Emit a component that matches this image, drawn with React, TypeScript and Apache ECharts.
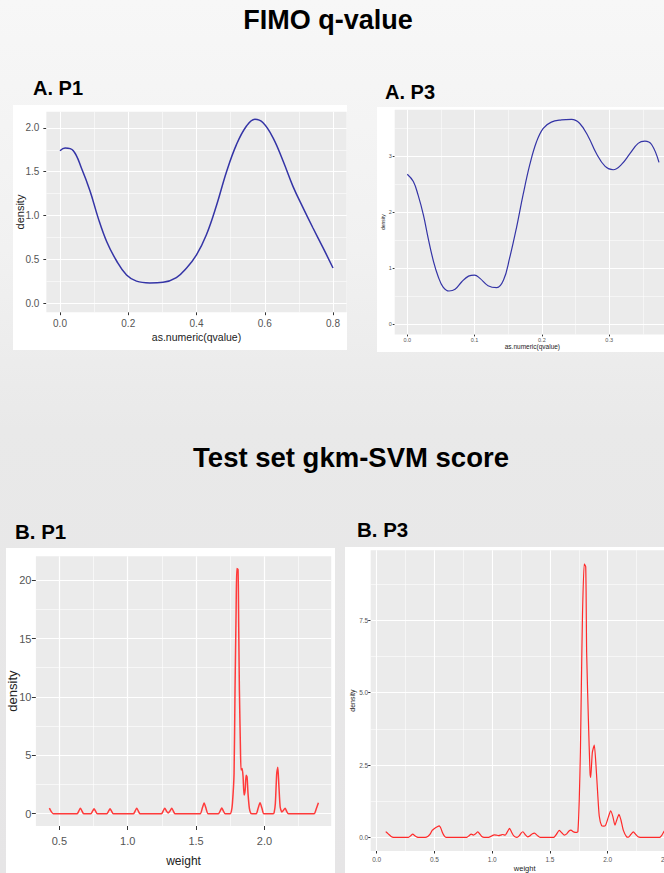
import React, { useEffect, useRef } from "react";
import * as echarts from "echarts";

// ---------- DATA ----------
// A. P1 – FIMO q-value density
const fimoP1: [number, number][] = [
  [0, 1.74], [0.015, 1.77], [0.039, 1.74], [0.063, 1.54], [0.088, 1.28], [0.112, 0.97],
  [0.137, 0.7], [0.166, 0.48], [0.195, 0.32], [0.224, 0.25], [0.263, 0.23], [0.302, 0.236],
  [0.341, 0.29], [0.371, 0.4], [0.4, 0.55], [0.429, 0.78], [0.459, 1.12], [0.488, 1.5],
  [0.517, 1.81], [0.546, 2.02], [0.571, 2.1], [0.595, 2.06], [0.624, 1.89], [0.654, 1.62],
  [0.683, 1.33], [0.712, 1.09], [0.741, 0.86], [0.771, 0.63], [0.8, 0.4],
];
// A. P3 – FIMO q-value density
const fimoP3: [number, number][] = [
  [0, 2.68], [0.009, 2.55], [0.016, 2.31], [0.024, 1.95], [0.031, 1.54], [0.039, 1.12],
  [0.046, 0.85], [0.053, 0.67], [0.062, 0.595], [0.071, 0.625], [0.081, 0.76], [0.091, 0.86],
  [0.1, 0.88], [0.108, 0.82], [0.12, 0.69], [0.133, 0.655], [0.143, 0.79], [0.152, 1.18],
  [0.162, 1.71], [0.172, 2.31], [0.182, 2.85], [0.192, 3.26], [0.202, 3.5], [0.214, 3.61],
  [0.229, 3.65], [0.244, 3.66], [0.256, 3.59], [0.269, 3.35], [0.281, 3.05], [0.294, 2.82],
  [0.306, 2.76], [0.318, 2.85], [0.331, 3.05], [0.343, 3.23], [0.353, 3.27], [0.363, 3.21],
  [0.374, 2.89],
];
// B. P1 – test set gkm-SVM score density
const gkmP1: [number, number][] = [
  [0.427, 0.48], [0.44, 0.2], [0.456, 0],
  [0.63, 0], [0.643, 0.25], [0.654, 0.48], [0.665, 0.25], [0.678, 0],
  [0.73, 0], [0.743, 0.22], [0.754, 0.43], [0.765, 0.22], [0.778, 0],
  [0.847, 0], [0.86, 0.22], [0.871, 0.43], [0.882, 0.22], [0.895, 0],
  [1.042, 0], [1.055, 0.25], [1.066, 0.48], [1.077, 0.25], [1.09, 0],
  [1.247, 0], [1.26, 0.25], [1.271, 0.48], [1.285, 0.2], [1.296, 0.06], [1.31, 0.25],
  [1.322, 0.48], [1.333, 0.25], [1.346, 0],
  [1.53, 0], [1.545, 0.45], [1.559, 0.91], [1.573, 0.45], [1.588, 0],
  [1.664, 0], [1.677, 0.25], [1.688, 0.49], [1.699, 0.25], [1.712, 0],
  [1.749, 0], [1.758, 0.2], [1.766, 0.88], [1.778, 3.45], [1.785, 10.6], [1.793, 17.4],
  [1.798, 21.0], [1.807, 20.9], [1.812, 16.0], [1.817, 10.6], [1.824, 6.0], [1.829, 3.74],
  [1.837, 3.88], [1.844, 3.17], [1.851, 1.6], [1.859, 2.0], [1.866, 3.3], [1.873, 3.17],
  [1.88, 1.74], [1.89, 0.46], [1.9, 0.05], [1.91, 0],
  [1.94, 0], [1.954, 0.47], [1.968, 0.94], [1.982, 0.47], [1.996, 0],
  [2.064, 0], [2.071, 0.1], [2.08, 0.88], [2.09, 3.45], [2.098, 3.97], [2.105, 2.6],
  [2.115, 0.6], [2.127, 0.15], [2.14, 0.3], [2.151, 0.48], [2.163, 0.2], [2.176, 0],
  [2.363, 0], [2.38, 0.45], [2.395, 0.94],
];
// B. P3 – test set gkm-SVM score density
const gkmP3: [number, number][] = [
  [0.078, 0.2], [0.1, 0.12], [0.125, 0.03], [0.145, 0],
  [0.275, 0], [0.295, 0.06], [0.312, 0.11], [0.33, 0.06], [0.35, 0.01], [0.37, 0],
  [0.42, 0], [0.445, 0.04], [0.462, 0.11], [0.48, 0.24], [0.5, 0.31], [0.52, 0.36],
  [0.543, 0.4], [0.555, 0.32], [0.57, 0.16], [0.585, 0.05], [0.601, 0],
  [0.78, 0], [0.8, 0.06], [0.818, 0.11], [0.838, 0.08], [0.858, 0.13], [0.876, 0.195],
  [0.892, 0.12], [0.91, 0.03], [0.93, 0],
  [0.968, 0], [0.995, 0.05], [1.017, 0.09], [1.035, 0.08], [1.055, 0.06], [1.075, 0.08],
  [1.09, 0.1], [1.113, 0.08], [1.13, 0.18], [1.15, 0.31], [1.168, 0.18], [1.185, 0.06],
  [1.214, 0], [1.235, 0.06], [1.25, 0.15], [1.266, 0.195], [1.285, 0.1], [1.306, 0.02],
  [1.325, 0.05], [1.345, 0.12], [1.367, 0.15], [1.39, 0.07], [1.416, 0],
  [1.532, 0], [1.555, 0.1], [1.581, 0.24], [1.605, 0.15], [1.624, 0.08], [1.645, 0.12],
  [1.665, 0.22], [1.682, 0.25], [1.705, 0.19], [1.728, 0.17], [1.742, 0.2],
  [1.754, 1.32], [1.764, 3.0], [1.772, 5.2], [1.782, 7.7], [1.797, 9.45], [1.81, 9.35],
  [1.818, 6.37], [1.833, 4.07], [1.847, 2.24], [1.853, 2.07], [1.867, 2.93], [1.884, 3.19],
  [1.899, 2.47], [1.913, 1.55], [1.927, 0.74], [1.948, 0.4], [1.965, 0.39], [1.982, 0.42],
  [2.005, 0.69], [2.026, 0.92], [2.045, 0.72], [2.063, 0.42], [2.08, 0.62], [2.098, 0.8],
  [2.115, 0.6], [2.135, 0.25], [2.164, 0.02], [2.18, 0.01], [2.2, 0.1], [2.222, 0.19],
  [2.243, 0.1], [2.263, 0.02], [2.283, 0],
  [2.45, 0], [2.47, 0.08], [2.487, 0.2], [2.494, 0.24],
];

// tick values
const fimoP1XTicks = [0, 0.2, 0.4, 0.6, 0.8];
const fimoP1XMinor = [0.1, 0.3, 0.5, 0.7];
const fimoP1YTicks = [0, 0.5, 1, 1.5, 2];
const fimoP1YMinor = [0.25, 0.75, 1.25, 1.75];

const fimoP3XTicks = [0, 0.1, 0.2, 0.3];
const fimoP3XMinor = [0.05, 0.15, 0.25, 0.35];
const fimoP3YTicks = [0, 1, 2, 3];
const fimoP3YMinor = [0.5, 1.5, 2.5, 3.5];

const gkmP1XTicks = [0.5, 1, 1.5, 2];
const gkmP1XMinor = [0.75, 1.25, 1.75, 2.25];
const gkmP1YTicks = [0, 5, 10, 15, 20];
const gkmP1YMinor = [2.5, 7.5, 12.5, 17.5];

const gkmP3XTicks = [0, 0.5, 1, 1.5, 2, 2.5];
const gkmP3XMinor = [0.25, 0.75, 1.25, 1.75, 2.25];
const gkmP3YTicks = [0, 2.5, 5, 7.5];
const gkmP3YMinor = [1.25, 3.75, 6.25, 8.75];

const titles = ["FIMO q-value", "Test set gkm-SVM score"];
const panelLabels = ["A. P1", "A. P3", "B. P1", "B. P3"];

// ---------- LAYOUT / STYLE ----------
const FONT = '"Liberation Sans", Arial, Helvetica, sans-serif';

type Panel = {
  data: [number, number][];
  color: string;
  lw: number;
  smooth: number;
  grid: { left: number; top: number; width: number; height: number };
  xr: [number, number];
  yr: [number, number];
  xt: number[]; xm: number[]; yt: number[]; ym: number[];
  xf: (v: number) => string;
  yf: (v: number) => string;
  fs: number; tick: number; xMargin: number; yMargin: number;
  xName: string; yName: string; xGap: number; yGap: number; xNs: number; yNs: number;
  major: number;
};

const f1 = (v: number) => v.toFixed(1);
const f0 = (v: number) => String(Math.round(v));

const panels: Panel[] = [
  {
    data: fimoP1, color: "#3434a6", lw: 1.5, smooth: 0.4,
    grid: { left: 46.35, top: 111.8, width: 300.3, height: 200.4 },
    xr: [-0.04, 0.84], yr: [-0.105, 2.185],
    xt: fimoP1XTicks, xm: fimoP1XMinor, yt: fimoP1YTicks, ym: fimoP1YMinor,
    xf: f1, yf: f1, fs: 10, tick: 3, xMargin: 6, yMargin: 7,
    xName: "as.numeric(qvalue)", yName: "density", xGap: 19, yGap: 21, xNs: 10.5, yNs: 11,
    major: 1.1,
  },
  {
    data: fimoP3, color: "#3434a6", lw: 1.2, smooth: 0.4,
    grid: { left: 394.7, top: 109.8, width: 275.4, height: 224.6 },
    xr: [-0.0187, 0.3905], yr: [-0.18, 3.83],
    xt: fimoP3XTicks, xm: fimoP3XMinor, yt: fimoP3YTicks, ym: fimoP3YMinor,
    xf: f1, yf: f0, fs: 5.5, tick: 2, xMargin: 3, yMargin: 3,
    xName: "as.numeric(qvalue)", yName: "density", xGap: 9, yGap: 9, xNs: 6.5, yNs: 5,
    major: 1,
  },
  {
    data: gkmP1, color: "#ff3b3b", lw: 1.5, smooth: 0.2,
    grid: { left: 35.9, top: 556.2, width: 295.3, height: 269.8 },
    xr: [0.3285, 2.4885], yr: [-1.05, 22.05],
    xt: gkmP1XTicks, xm: gkmP1XMinor, yt: gkmP1YTicks, ym: gkmP1YMinor,
    xf: f1, yf: f0, fs: 11, tick: 4, xMargin: 9.5, yMargin: 4.5,
    xName: "weight", yName: "density", xGap: 28.5, yGap: 17, xNs: 12, yNs: 13,
    major: 1.2,
  },
  {
    data: gkmP3, color: "#ff2a2a", lw: 1.2, smooth: 0.2,
    grid: { left: 370.7, top: 550.2, width: 308, height: 301.7 },
    xr: [-0.052, 2.615], yr: [-0.47, 9.92],
    xt: gkmP3XTicks, xm: gkmP3XMinor, yt: gkmP3YTicks, ym: gkmP3YMinor,
    xf: f1, yf: f1, fs: 6.5, tick: 2.5, xMargin: 5, yMargin: 2.5,
    xName: "weight", yName: "density", xGap: 13, yGap: 15, xNs: 7.5, yNs: 7,
    major: 1.1,
  },
];

const whiteBoxes = [
  { left: 13, top: 105, width: 334, height: 245 },
  { left: 377, top: 107, width: 343, height: 245 },
  { left: 6, top: 548, width: 329, height: 330 },
  { left: 345, top: 547, width: 380, height: 330 },
];

function buildOption(): echarts.EChartsOption {
  const grid: any[] = [];
  const xAxis: any[] = [];
  const yAxis: any[] = [];
  const series: any[] = [];
  panels.forEach((p, i) => {
    grid.push({ ...p.grid, show: true, backgroundColor: "#ebebeb", borderWidth: 0 });
    const common = (ticks: number[], fmt: (v: number) => string, margin: number) => ({
      type: "value",
      gridIndex: i,
      axisLine: { show: false, onZero: false },
      axisTick: { show: true, customValues: ticks, length: p.tick, lineStyle: { color: "#333333", width: 1 } },
      axisLabel: {
        customValues: ticks, formatter: (v: number) => fmt(v), fontSize: p.fs,
        color: "#555555", margin, fontFamily: FONT,
      },
      splitLine: { show: false },
      nameLocation: "middle",
      nameMoveOverlap: false,
    });
    xAxis.push({
      ...common(p.xt, p.xf, p.xMargin), min: p.xr[0], max: p.xr[1],
      name: p.xName, nameGap: p.xGap,
      nameTextStyle: { fontSize: p.xNs, color: "#222222", fontFamily: FONT },
    });
    yAxis.push({
      ...common(p.yt, p.yf, p.yMargin), min: p.yr[0], max: p.yr[1],
      name: p.yName, nameGap: p.yGap,
      nameTextStyle: { fontSize: p.yNs, color: "#222222", fontFamily: FONT },
    });
    const minorW = p.major * 0.5;
    series.push({
      type: "line", xAxisIndex: i, yAxisIndex: i, data: [], z: 1, silent: true,
      markLine: {
        z: 1,
        silent: true, symbol: ["none", "none"], label: { show: false }, animation: false,
        emphasis: { disabled: true },
        lineStyle: { color: "#ffffff", type: "solid", width: p.major },
        data: [
          ...p.xm.map((v) => ({ xAxis: v, lineStyle: { width: minorW, color: "#ffffff", type: "solid" } })),
          ...p.ym.map((v) => ({ yAxis: v, lineStyle: { width: minorW, color: "#ffffff", type: "solid" } })),
          ...p.xt.map((v) => ({ xAxis: v })),
          ...p.yt.map((v) => ({ yAxis: v })),
        ],
      },
    });
    series.push({
      type: "line", xAxisIndex: i, yAxisIndex: i, data: p.data, z: 6, silent: true,
      showSymbol: false, symbol: "none", smooth: p.smooth,
      lineStyle: { color: p.color, width: p.lw },
    });
  });

  const txt = (text: string, x: number, y: number, size: number, align: string) => ({
    type: "text", x, y, silent: true,
    style: {
      text, font: `bold ${size}px ${FONT}`, fill: "#000000",
      textAlign: align, textVerticalAlign: "middle",
    },
  });

  return {
    animation: false,
    backgroundColor: "transparent",
    grid, xAxis, yAxis, series,
    graphic: [
      txt(titles[0], 328, 19.5, 27, "center"),
      txt(titles[1], 351, 457, 27.5, "center"),
      txt(panelLabels[0], 33, 88, 20, "left"),
      txt(panelLabels[1], 385, 91.5, 20, "left"),
      txt(panelLabels[2], 15, 531, 20.5, "left"),
      txt(panelLabels[3], 357, 529, 20.5, "left"),
    ],
  } as any;
}

export default function App() {
  const ref = useRef<HTMLDivElement>(null);
  useEffect(() => {
    if (!ref.current) return;
    const chart = echarts.init(ref.current, undefined, { renderer: "svg" });
    chart.setOption(buildOption());
    return () => chart.dispose();
  }, []);
  return (
    <div
      style={{
        position: "absolute", left: 0, top: 0, width: 664, height: 873, overflow: "hidden",
        background: "linear-gradient(to bottom, #f7f7f7 0px, #f1f1f1 250px, #e9e9e9 430px, #e6e5e6 873px)",
      }}
    >
      {whiteBoxes.map((b, i) => (
        <div key={i} style={{ position: "absolute", background: "#ffffff", ...b }} />
      ))}
      <div ref={ref} style={{ position: "absolute", left: 0, top: 0, width: 720, height: 873 }} />
    </div>
  );
}
